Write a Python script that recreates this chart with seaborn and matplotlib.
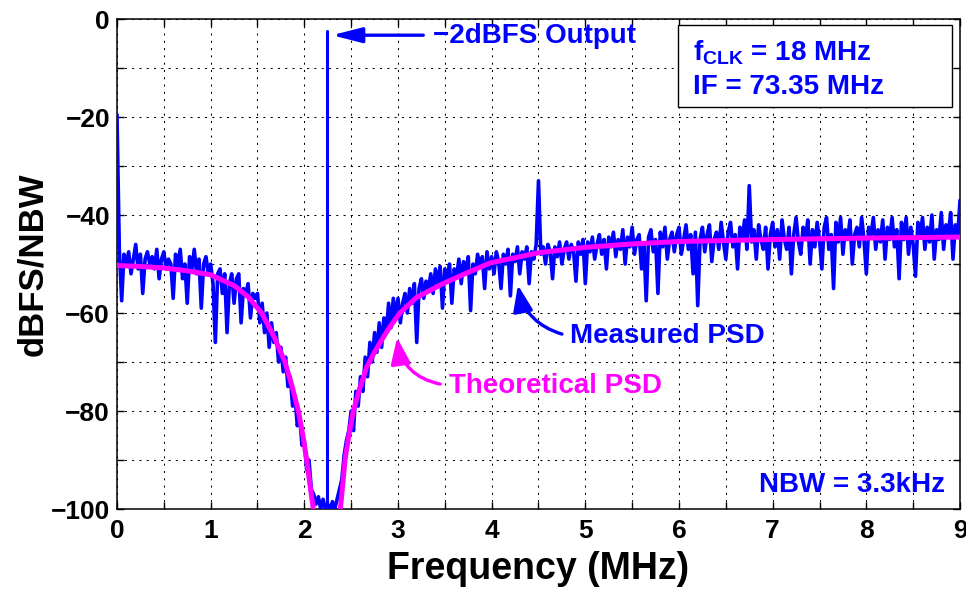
import numpy as np
import pandas as pd
import matplotlib
matplotlib.use("Agg")
import matplotlib.pyplot as plt
from matplotlib.patches import Rectangle
from matplotlib.ticker import MultipleLocator
import seaborn as sns

# ---------------------------------------------------------------------------
# Measured output spectrum, dBFS per noise bandwidth, on a 25 kHz grid (0-9 MHz)
# ---------------------------------------------------------------------------
freq_step_mhz = 0.025
measured_psd = [
    # 0.0 - 0.475
    -19.5, -47, -57.5, -48, -50, -47.5, -52, -49, -46, -51,
    -48, -56, -49, -47.5, -50, -48.5, -51, -47, -53, -49,
    # 0.5 - 0.975
    -47.5, -51, -49, -50, -57, -48, -50.5, -47, -53, -50,
    -58, -48.5, -51, -47, -52, -49, -59, -50, -48.5, -52,
    # 1.0 - 1.475
    -50, -54, -66, -52, -51, -56, -52, -64, -54, -52,
    -58, -53, -52, -62, -55, -56, -54, -61, -56, -57,
    # 1.5 - 1.975
    -56, -62, -58, -64, -60, -67, -62, -66, -64, -70,
    -67, -72, -69, -75, -73, -79, -77, -83, -81, -87,
    # 2.0 - 2.475
    -86, -92, -90, -96, -97, -99, -97.5, -100, -98, -100,
    -99, -100, -98.5, -100, -98, -96, -94, -89, -86, -84,
    # 2.5 - 2.975
    -80, -84, -76, -79, -73, -76, -69, -73, -66, -70,
    -64, -68, -62, -67, -61, -64, -58, -63, -57, -61,
    # 3.0 - 3.475
    -57, -62, -58, -56, -60, -55, -58, -54, -66, -55,
    -53, -57, -53.5, -55, -52, -56, -51, -54, -50.5, -59,
    # 3.5 - 3.975
    -51, -53, -50, -58, -51, -52.5, -49, -54, -49.5, -51.5,
    -48.5, -59.5, -50, -52, -48, -50.5, -48.5, -55, -47.5, -51,
    # 4.0 - 4.475
    -48.5, -52, -47.5, -49.5, -55, -48, -50, -47, -56.5, -48,
    -49.5, -46.5, -52, -47.5, -49, -46.5, -54, -47.5, -49, -46,
    # 4.5 - 4.975
    -33, -48, -46.5, -50, -46, -47.5, -53, -46.5, -48.5, -45.5,
    -50, -47, -45.5, -49, -46, -47.5, -53.5, -45.5, -48, -45,
    # 5.0 - 5.475
    -54, -45.5, -47.5, -44.5, -49, -46, -44, -48, -45, -51,
    -44.5, -46.5, -43.5, -48.5, -45, -47, -43, -50, -44.5, -46.5,
    # 5.5 - 5.975
    -42.5, -48, -45, -44, -51, -46, -57.5, -44.5, -43, -47.5,
    -45, -56, -43.5, -46.5, -42.5, -49, -45, -43.5, -47.5, -44,
    # 6.0 - 6.475
    -42.5, -48, -45, -42, -47, -44, -52, -43.5, -58.5, -45,
    -42.5, -47.5, -44, -42, -49.5, -45, -43.5, -47, -41.5, -45.5,
    # 6.5 - 6.975
    -49, -43.5, -41.5, -46.5, -44, -51, -42.5, -45, -41, -47,
    -34, -45.5, -43, -49, -42, -45, -47, -42.5, -51, -44,
    # 7.0 - 7.475
    -41.5, -46.5, -43, -49, -41, -45, -47, -42.5, -52, -44,
    -40.5, -45.5, -48, -42.5, -45, -41, -50, -43, -46.5, -41.5,
    # 7.5 - 7.975
    -45, -51, -42.5, -40.5, -47, -44, -55, -41.5, -45.5, -40.5,
    -48, -43, -45, -41, -50, -44, -42.5, -46.5, -40.5, -45,
    # 8.0 - 8.475
    -52, -42.5, -44, -40.5, -47, -43, -45.5, -41, -49, -42.5,
    -45, -40.5, -46.5, -43, -53, -41.5, -45, -40.5, -48, -42.5,
    # 8.5 - 9.0
    -46, -52.5, -41.5, -44, -40.5, -47, -42.5, -45.5, -40, -49,
    -43, -45, -39.5, -47, -42, -44, -39.5, -49, -42, -44.5,
    -37,
]

# Output tone (-2 dBFS carrier) at the notch centre
tone_freq_mhz = 2.245
tone_level = -2.4
floor_level = -100

# Theoretical noise-transfer PSD, either side of the notch
theory_left_freq = [0.0, 0.25, 0.5, 0.75, 1.0, 1.25, 1.4, 1.545, 1.68, 1.793,
                    1.87, 1.936, 1.985, 2.025, 2.06, 2.096]
theory_left_psd = [-50.3, -50.5, -50.8, -51.4, -52.2, -54.4, -56.7, -60, -65, -70,
                   -75, -80, -85, -90, -95, -100]
theory_right_freq = [2.385, 2.41, 2.434, 2.475, 2.523, 2.59, 2.666, 2.74, 2.81, 2.9,
                     3.02, 3.2, 3.48, 3.75, 3.98, 4.5, 5.0, 5.5, 6.0, 7.0, 8.0, 9.0]
theory_right_psd = [-100, -95, -90, -85, -80, -75.5, -71, -68.3, -66, -63.2,
                    -60, -56.8, -54, -51.7, -49.8, -47.7, -46.6, -45.9, -45.4, -45.0,
                    -44.7, -44.5]

# Annotation texts
clk_text = r"f$_{\mathbf{CLK}}$ = 18 MHz"
if_text = "IF = 73.35 MHz"
nbw_text = "NBW = 3.3kHz"
tone_text = "\u22122dBFS Output"
measured_text = "Measured PSD"
theory_text = "Theoretical PSD"

BLUE = "#0000FF"
MAGENTA = "#FF00FF"

# ---------------------------------------------------------------------------
sns.set_style("ticks")
plt.rcParams["font.family"] = ["Liberation Sans", "DejaVu Sans"]
plt.rcParams["font.weight"] = "bold"
plt.rcParams["axes.labelweight"] = "bold"
plt.rcParams["mathtext.fontset"] = "custom"
plt.rcParams["mathtext.bf"] = "Liberation Sans:bold"
plt.rcParams["mathtext.rm"] = "Liberation Sans:bold"
plt.rcParams["axes.unicode_minus"] = True
for key in ("text.color", "axes.labelcolor", "xtick.color", "ytick.color",
            "xtick.labelcolor", "ytick.labelcolor", "axes.edgecolor"):
    plt.rcParams[key] = "black"

meas_df = pd.DataFrame({
    "freq": np.round(np.arange(len(measured_psd)) * freq_step_mhz, 3),
    "psd": measured_psd,
})
tone_df = pd.DataFrame({"freq": [tone_freq_mhz, tone_freq_mhz],
                        "psd": [floor_level, tone_level]})
theory_df = pd.DataFrame({
    "freq": theory_left_freq + theory_right_freq,
    "psd": theory_left_psd + theory_right_psd,
    "branch": ["low"] * len(theory_left_freq) + ["high"] * len(theory_right_freq),
})

fig, ax = plt.subplots(figsize=(9.66, 5.95), dpi=100)
fig.subplots_adjust(left=0.1211, right=0.9938, bottom=0.1445, top=0.968)

sns.lineplot(data=meas_df, x="freq", y="psd", color=BLUE, lw=2.6,
             estimator=None, sort=False, ax=ax, zorder=3)
sns.lineplot(data=tone_df, x="freq", y="psd", color=BLUE, lw=2.2,
             estimator=None, sort=False, ax=ax, zorder=3)
sns.lineplot(data=theory_df, x="freq", y="psd", units="branch", color=MAGENTA,
             lw=3.6, estimator=None, sort=False, ax=ax, zorder=4)

ax.set_xlim(0, 9)
ax.set_ylim(-100, 0)
ax.xaxis.set_major_locator(MultipleLocator(1))
ax.xaxis.set_minor_locator(MultipleLocator(0.5))
ax.yaxis.set_major_locator(MultipleLocator(20))
ax.yaxis.set_minor_locator(MultipleLocator(10))
ax.tick_params(which="both", direction="in", top=True, right=True,
               length=5, width=1, color="black")
ax.tick_params(axis="both", which="major", labelsize=19, labelcolor="black")
ax.tick_params(axis="x", which="major", pad=7)
ax.tick_params(axis="y", which="major", pad=5)
ax.grid(which="both", color="black", lw=0.75, ls=(0, (2, 5)))
for sp in ax.spines.values():
    sp.set_visible(True)
    sp.set_linewidth(1.1)
    sp.set_color("black")

ax.set_xlabel("Frequency (MHz)", fontsize=27, labelpad=6, color="black")
ax.set_ylabel("dBFS/NBW", fontsize=25, labelpad=1, color="black")

# Carrier label
ax.annotate("", xy=(2.295, -3.3), xytext=(3.27, -3.3),
            arrowprops=dict(arrowstyle="-|>,head_length=0.9,head_width=0.23",
                            color=BLUE, lw=2.4, shrinkA=0, shrinkB=0,
                            mutation_scale=20), zorder=6)
ax.text(3.373, -4.97, tone_text, color=BLUE, fontsize=20, ha="left",
        va="baseline", zorder=6)

# Measured / theoretical callouts
ax.annotate("", xy=(4.28, -54.3), xytext=(4.75, -64.3),
            arrowprops=dict(arrowstyle="-|>,head_length=0.8,head_width=0.3",
                            color=BLUE, lw=2.4, shrinkA=0, shrinkB=0,
                            mutation_scale=20, connectionstyle="arc3,rad=-0.3"),
            zorder=6)
ax.text(4.836, -66.2, measured_text, color=BLUE, fontsize=20, ha="left",
        va="baseline", zorder=6)

ax.annotate("", xy=(2.99, -65.0), xytext=(3.45, -74.5),
            arrowprops=dict(arrowstyle="-|>,head_length=0.8,head_width=0.3",
                            color=MAGENTA, lw=2.4, shrinkA=0, shrinkB=0,
                            mutation_scale=20, connectionstyle="arc3,rad=-0.35"),
            zorder=6)
ax.text(3.544, -76.4, theory_text, color=MAGENTA, fontsize=20, ha="left",
        va="baseline", zorder=6)

# Operating-conditions box
ax.add_patch(Rectangle((0.6655, 0.8204), 0.325, 0.1674, transform=ax.transAxes,
                       facecolor="white", edgecolor="black", lw=1.0, zorder=5))
ax.text(0.683, 0.915, clk_text, transform=ax.transAxes, color=BLUE,
        fontsize=20, ha="left", va="baseline", zorder=6)
ax.text(0.683, 0.848, if_text, transform=ax.transAxes, color=BLUE,
        fontsize=20, ha="left", va="baseline", zorder=6)

ax.text(0.982, 0.0353, nbw_text, transform=ax.transAxes, color=BLUE,
        fontsize=20, ha="right", va="baseline", zorder=6)

fig.savefig("out.png", dpi=100)
